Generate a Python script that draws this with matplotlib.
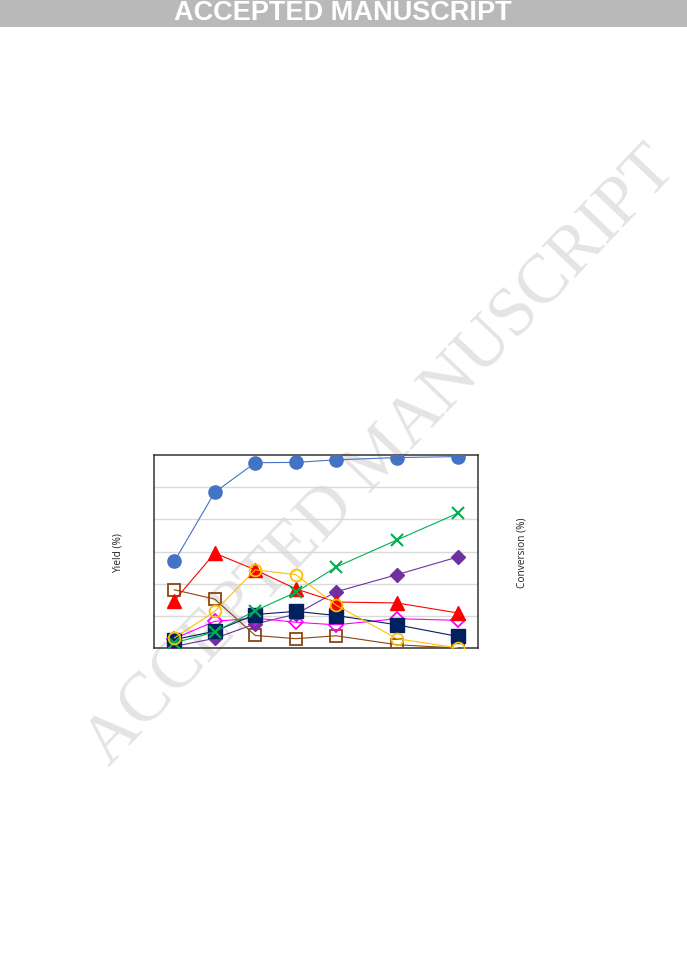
import matplotlib
matplotlib.use("Agg")
import matplotlib.pyplot as plt

# Data (relative units; axis 0-6)
x = [1, 2, 3, 4, 5, 6.5, 8]
conversion = [2.69, 4.84, 5.76, 5.77, 5.85, 5.92, 5.95]
red_tri = [1.47, 2.95, 2.43, 1.84, 1.43, 1.40, 1.09]
orange_circ = [0.31, 1.14, 2.43, 2.28, 1.33, 0.29, 0.0]
green_x = [0.16, 0.50, 1.16, 1.73, 2.52, 3.36, 4.19]
purple_dia = [0.05, 0.30, 0.75, 1.05, 1.75, 2.28, 2.83]
navy_sq = [0.26, 0.52, 1.04, 1.14, 1.01, 0.72, 0.36]
magenta_dia = [0.29, 0.83, 0.93, 0.80, 0.72, 0.91, 0.86]
brown_sq = [1.81, 1.52, 0.39, 0.29, 0.38, 0.10, 0.0]

W, H = 687, 971
fig = plt.figure(figsize=(W / 100, H / 100), dpi=100)
fig.patch.set_facecolor("white")

# Header banner
fig.patches.append(plt.Rectangle((0, 1 - 27 / H), 1, 27 / H, transform=fig.transFigure,
                                 facecolor="#b9b9b9", edgecolor="none", zorder=-2))
fig.text(343 / W, 1 - 13.5 / H, "ACCEPTED MANUSCRIPT", color="white", fontsize=19.5,
         fontweight="bold", family="Liberation Sans", ha="center", va="center")

# Watermark (behind the chart)
fig.text(382 / W, 1 - 458 / H, "ACCEPTED MANUSCRIPT", color="#e4e4e4", fontsize=50,
         family="Liberation Serif", rotation=46.4, ha="center", va="center",
         rotation_mode="anchor", zorder=-1)

ax = fig.add_axes([154 / W, 1 - 648 / H, (478 - 154) / W, (648 - 455) / H])
ax.set_facecolor("none")
ax.set_xlim(0.5, 8.5)
ax.set_ylim(0, 6)
ax.set_yticks([1, 2, 3, 4, 5])
ax.set_xticks([])
ax.tick_params(left=False, labelleft=False, bottom=False, labelbottom=False)
ax.grid(axis="y", color="#d9d9d9", linewidth=1)
for s in ax.spines.values():
    s.set_color("#333333")
    s.set_linewidth(1.1)

lw = 0.8
ax.plot(x, conversion, color="#4472C4", lw=lw, marker="o", ms=9.5, mfc="#4472C4", mec="#4472C4", zorder=3)
ax.plot(x, brown_sq, color="#8B4513", lw=lw, marker="s", ms=8.5, mfc="none", mec="#8B4513", mew=1.3, zorder=3)
ax.plot(x, purple_dia, color="#7030A0", lw=lw, marker="D", ms=7, mfc="#7030A0", mec="#7030A0", zorder=3)
ax.plot(x, magenta_dia, color="#FF00FF", lw=lw, marker="D", ms=7, mfc="none", mec="#FF00FF", mew=1.3, zorder=3)
ax.plot(x, navy_sq, color="#002060", lw=lw, marker="s", ms=9.5, mfc="#002060", mec="#002060", zorder=3)
ax.plot(x, red_tri, color="#FF0000", lw=lw, marker="^", ms=10, mfc="#FF0000", mec="#FF0000", zorder=3)
ax.plot(x, green_x, color="#00B050", lw=lw, marker="x", ms=9, mew=1.5, zorder=3)
ax.plot(x, orange_circ, color="#FFC000", lw=lw, marker="o", ms=8.5, mfc="none", mec="#FFC000", mew=1.3, zorder=3)

fig.text(118 / W, 1 - 553 / H, "Yield (%)", rotation=90, fontsize=7.3, family="Open Sans",
         ha="center", va="center", color="#222222")
fig.text(522 / W, 1 - 553 / H, "Conversion (%)", rotation=90, fontsize=7.3, family="Open Sans",
         ha="center", va="center", color="#222222")

fig.savefig("out.png", dpi=100)
